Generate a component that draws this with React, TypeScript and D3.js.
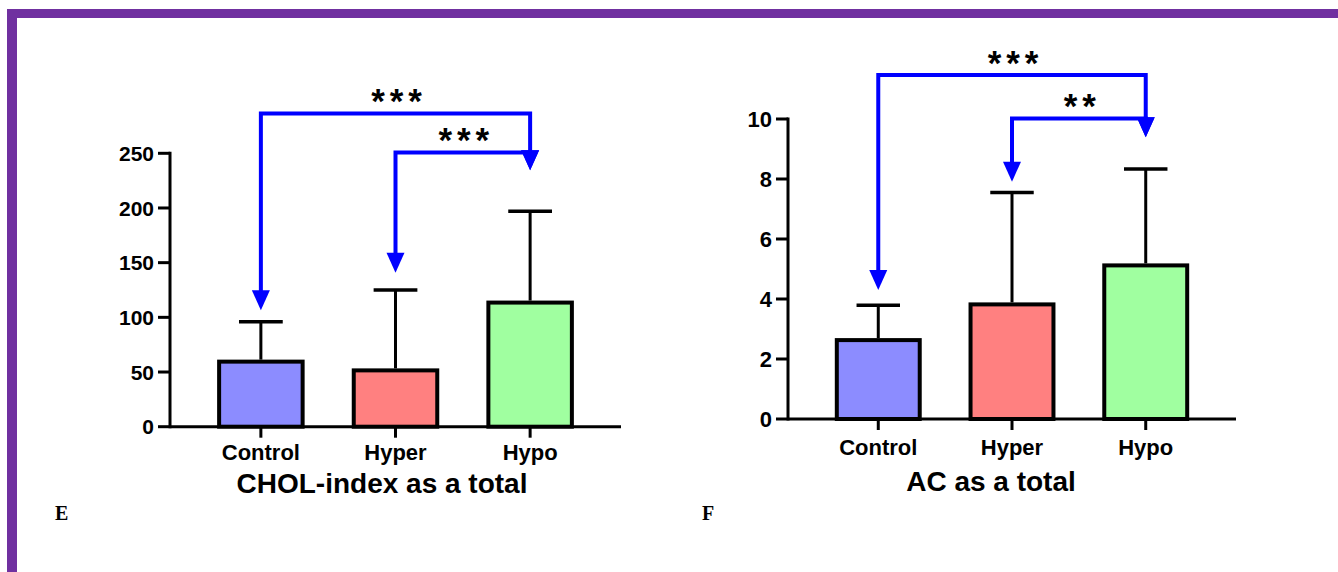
import React, { useEffect, useRef } from "react";
import * as d3 from "d3";

// groups shared by both panels
const groups = ["Control", "Hyper", "Hypo"];
const barColors = ["#8c8cff", "#ff8080", "#a0ffa0"];

// panel E: CHOL-index
const cholMeans = [59.5, 51.5, 113.5];
const cholSd = [36.5, 73.5, 83.5];
const cholTicks = [0, 50, 100, 150, 200, 250];
const cholComparisons = [
  { from: 0, to: 2, level: 286.5, tipFrom: 106.5, tipTo: 234.5, stars: "***" },
  { from: 1, to: 2, level: 250.8, tipFrom: 140.8, tipTo: 234.5, stars: "***" },
];

// panel F: AC
const acMeans = [2.63, 3.82, 5.12];
const acSd = [1.16, 3.73, 3.21];
const acTicks = [0, 2, 4, 6, 8, 10];
const acComparisons = [
  { from: 0, to: 2, level: 11.47, tipFrom: 4.3, tipTo: 9.39, stars: "***" },
  { from: 1, to: 2, level: 10.02, tipFrom: 7.91, tipTo: 9.39, stars: "**" },
];

const W = 1338;
const H = 572;
const FONT = "'Liberation Sans', Arial, Helvetica, sans-serif";

const drawPanel = (svg, p) => {
  const x = d3.scaleBand().domain(groups).range(p.xRange).padding(0.35);
  const y = d3.scaleLinear().domain(p.domain).range(p.yRange);
  const x0 = p.xRange[0];
  const g = svg.append("g");

  // bars
  g.selectAll("rect.bar")
    .data(p.means)
    .join("rect")
    .attr("class", "bar")
    .attr("x", (d, i) => x(groups[i]) + 2)
    .attr("width", x.bandwidth() - 4)
    .attr("y", (d) => y(d))
    .attr("height", (d) => y(0) - y(d))
    .attr("fill", (d, i) => barColors[i])
    .attr("stroke", "#000")
    .attr("stroke-width", 4);

  // error bars (upper only)
  const cx = (i) => x(groups[i]) + x.bandwidth() / 2;
  g.selectAll("line.err")
    .data(p.means)
    .join("line")
    .attr("class", "err")
    .attr("x1", (d, i) => cx(i))
    .attr("x2", (d, i) => cx(i))
    .attr("y1", (d) => y(d) - 2)
    .attr("y2", (d, i) => y(d + p.sd[i]))
    .attr("stroke", "#000")
    .attr("stroke-width", 3);
  g.selectAll("line.cap")
    .data(p.means)
    .join("line")
    .attr("class", "cap")
    .attr("x1", (d, i) => cx(i) - x.bandwidth() / 4)
    .attr("x2", (d, i) => cx(i) + x.bandwidth() / 4)
    .attr("y1", (d, i) => y(d + p.sd[i]))
    .attr("y2", (d, i) => y(d + p.sd[i]))
    .attr("stroke", "#000")
    .attr("stroke-width", 3.5);

  // y axis
  g.append("line")
    .attr("x1", x0)
    .attr("x2", x0)
    .attr("y1", y(p.domain[0]) + 1.5)
    .attr("y2", y(p.domain[1]) - 1.5)
    .attr("stroke", "#000")
    .attr("stroke-width", 3);
  g.selectAll("line.ytick")
    .data(p.ticks)
    .join("line")
    .attr("class", "ytick")
    .attr("x1", x0 - 12)
    .attr("x2", x0)
    .attr("y1", (d) => y(d))
    .attr("y2", (d) => y(d))
    .attr("stroke", "#000")
    .attr("stroke-width", 3);
  g.selectAll("text.ylab")
    .data(p.ticks)
    .join("text")
    .attr("class", "ylab")
    .attr("x", x0 - 16)
    .attr("y", (d) => y(d))
    .attr("dy", "0.36em")
    .attr("text-anchor", "end")
    .style("font", `bold ${p.tickFont}px ${FONT}`)
    .text((d) => d);

  // x axis
  g.append("line")
    .attr("x1", x0)
    .attr("x2", p.xRange[1])
    .attr("y1", y(0))
    .attr("y2", y(0))
    .attr("stroke", "#000")
    .attr("stroke-width", 3);
  g.selectAll("line.xtick")
    .data(groups)
    .join("line")
    .attr("class", "xtick")
    .attr("x1", (d, i) => cx(i))
    .attr("x2", (d, i) => cx(i))
    .attr("y1", y(0))
    .attr("y2", y(0) + 11)
    .attr("stroke", "#000")
    .attr("stroke-width", 3);
  g.selectAll("text.xlab")
    .data(groups)
    .join("text")
    .attr("class", "xlab")
    .attr("x", (d, i) => cx(i))
    .attr("y", p.labelY)
    .attr("text-anchor", "middle")
    .style("font", `bold 22px ${FONT}`)
    .text((d) => d);

  // title + panel letter
  g.append("text")
    .attr("x", p.titleX)
    .attr("y", p.titleY)
    .attr("text-anchor", "middle")
    .style("font", `bold 28px ${FONT}`)
    .text(p.title);
  g.append("text")
    .attr("x", p.letterX)
    .attr("y", 520)
    .style("font", "bold 20px 'Liberation Serif', 'Times New Roman', serif")
    .text(p.letter);

  // significance brackets
  const blue = "#0000ff";
  const arrow = (tx, ty) =>
    `M${tx - 9},${ty - 20}L${tx + 9},${ty - 20}L${tx},${ty}Z`;
  p.comparisons.forEach((c) => {
    const xa = cx(c.from);
    const xb = cx(c.to);
    const ly = y(c.level);
    g.append("path")
      .attr(
        "d",
        `M${xa},${y(c.tipFrom) - 18}L${xa},${ly}L${xb},${ly}L${xb},${y(c.tipTo) - 18}`
      )
      .attr("fill", "none")
      .attr("stroke", blue)
      .attr("stroke-width", 4);
    g.append("path").attr("d", arrow(xa, y(c.tipFrom))).attr("fill", blue);
    g.append("path").attr("d", arrow(xb, y(c.tipTo))).attr("fill", blue);
    const n = c.stars.length;
    const mid = (xa + xb) / 2 + 1;
    d3.range(n).forEach((k) => {
      g.append("text")
        .attr("x", mid + (k - (n - 1) / 2) * 18.5)
        .attr("y", ly)
        .attr("text-anchor", "middle")
        .style("font", `bold 35px ${FONT}`)
        .text("*");
    });
  });
};

const App = () => {
  const svgRef = useRef();

  useEffect(() => {
    const svg = d3.select(svgRef.current);
    svg.selectAll("*").remove();

    // purple frame
    svg.append("rect").attr("x", 7).attr("y", 9).attr("width", W - 7).attr("height", 9).attr("fill", "#7030a0");
    svg.append("rect").attr("x", 7).attr("y", 9).attr("width", 10).attr("height", H - 9).attr("fill", "#7030a0");

    drawPanel(svg, {
      means: cholMeans,
      sd: cholSd,
      ticks: cholTicks,
      comparisons: cholComparisons,
      domain: [0, 250],
      xRange: [170, 621],
      yRange: [426.7, 153.3],
      tickFont: 21,
      labelY: 460,
      title: "CHOL-index as a total",
      titleX: 382,
      titleY: 493,
      letter: "E",
      letterX: 55,
    });

    drawPanel(svg, {
      means: acMeans,
      sd: acSd,
      ticks: acTicks,
      comparisons: acComparisons,
      domain: [0, 10],
      xRange: [788, 1236],
      yRange: [419, 119],
      tickFont: 22,
      labelY: 455,
      title: "AC as a total",
      titleX: 991,
      titleY: 491,
      letter: "F",
      letterX: 702,
    });
  }, []);

  return (
    <div style={{ position: "absolute", left: 0, top: 0, width: W, height: H, background: "#fff" }}>
      <svg ref={svgRef} width={W} height={H}></svg>
    </div>
  );
};

export default App;
